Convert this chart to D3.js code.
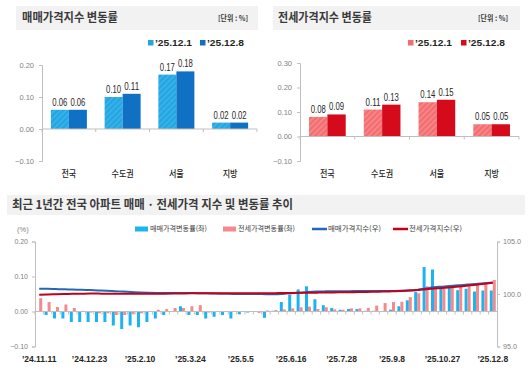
<!DOCTYPE html>
<html><head><meta charset="utf-8">
<script src="https://cdn.jsdelivr.net/npm/d3@7"></script>
<style>
body{margin:0;background:#fff}
svg{display:block}
text{font-family:"Noto Sans CJK KR","Noto Sans",sans-serif}
.num{font-family:"Liberation Sans Narrow","Arial Narrow","Liberation Sans",Arial,sans-serif}
.lat{font-family:"Liberation Sans",Arial,sans-serif}
</style>
</head><body>
<svg id="c" width="530" height="375"></svg>
<script>
// ---------- data ----------
const regions = ["전국", "수도권", "서울", "지방"];
const legendDates = ["’25.12.1", "’25.12.8"];
const saleChgDec1 = [0.06, 0.10, 0.17, 0.02];
const saleChgDec8 = [0.06, 0.11, 0.18, 0.02];
const jeonseChgDec1 = [0.08, 0.11, 0.14, 0.05];
const jeonseChgDec8 = [0.09, 0.13, 0.15, 0.05];
const saleTicks = [-0.10, 0.00, 0.10, 0.20];
const jeonseTicks = [-0.10, 0.00, 0.10, 0.20, 0.30];

const weeks = ["’24.11.11","’24.11.18","’24.11.25","’24.12.2","’24.12.9","’24.12.16","’24.12.23","’24.12.30",
  "’25.1.6","’25.1.13","’25.1.20","’25.2.3","’25.2.10","’25.2.17","’25.2.24","’25.3.3","’25.3.10","’25.3.17",
  "’25.3.24","’25.3.31","’25.4.7","’25.4.14","’25.4.21","’25.4.28","’25.5.5","’25.5.12","’25.5.19","’25.5.26",
  "’25.6.2","’25.6.9","’25.6.16","’25.6.23","’25.6.30","’25.7.7","’25.7.14","’25.7.21","’25.7.28","’25.8.4",
  "’25.8.11","’25.8.18","’25.8.25","’25.9.1","’25.9.8","’25.9.15","’25.9.22","’25.9.29","’25.10.13","’25.10.20",
  "’25.10.27","’25.11.3","’25.11.10","’25.11.17","’25.11.24","’25.12.1","’25.12.8"];
const weekTickLabels = ["’24.11.11","’24.12.23","’25.2.10","’25.3.24","’25.5.5","’25.6.16","’25.7.28","’25.9.8","’25.10.27","’25.12.8"];
const saleWeeklyChg = [0.00,-0.01,-0.02,-0.02,-0.03,-0.03,-0.03,-0.03,-0.03,-0.04,-0.05,-0.04,-0.045,-0.03,-0.02,-0.01,0.00,0.015,
  -0.01,-0.01,-0.02,-0.015,-0.01,-0.02,-0.008,-0.003,0.00,-0.018,0.002,0.027,0.048,0.063,0.072,0.035,0.018,0.01,
  0.005,0.007,0.007,0.002,0.002,0.00,0.005,0.015,0.032,0.056,0.127,0.12,0.068,0.068,0.061,0.065,0.057,0.06,0.06];
const jeonseWeeklyChg = [0.038,0.027,0.013,0.02,0.01,0.002,-0.003,-0.005,-0.005,-0.01,-0.01,-0.008,-0.005,0.00,0.005,0.007,0.01,0.01,
  0.015,0.018,-0.003,0.00,0.00,0.00,0.00,0.00,-0.004,0.003,0.004,0.006,0.009,0.012,0.014,0.007,0.012,0.006,
  0.005,0.009,0.009,0.01,0.017,0.024,0.027,0.028,0.041,0.052,0.072,0.065,0.065,0.07,0.07,0.075,0.078,0.08,0.09];
const saleIndex = [100.50,100.49,100.47,100.45,100.42,100.40,100.37,100.34,100.31,100.27,100.23,100.19,100.15,100.12,100.10,100.09,100.09,100.10,
  100.09,100.08,100.06,100.04,100.03,100.01,100.00,100.00,100.00,99.98,99.98,100.01,100.06,100.12,100.19,100.23,100.25,100.26,
  100.26,100.27,100.28,100.28,100.28,100.28,100.29,100.30,100.33,100.39,100.52,100.64,100.70,100.77,100.83,100.90,100.95,101.02,101.09];
const jeonseIndex = [99.93,99.96,99.98,100.00,100.02,100.03,100.04,100.04,100.03,100.03,100.02,100.02,100.02,100.02,100.02,100.03,100.04,100.05,
  100.06,100.08,100.08,100.08,100.08,100.08,100.08,100.08,100.07,100.08,100.08,100.09,100.10,100.11,100.12,100.13,100.15,100.15,
  100.16,100.17,100.18,100.19,100.21,100.23,100.26,100.29,100.33,100.38,100.45,100.52,100.58,100.65,100.72,100.80,100.88,100.97,101.07];
const chgTicks = [-0.10, 0.00, 0.10, 0.20];
const idxTicks = [95, 100, 105];

// ---------- drawing ----------
const svg = d3.select("#c");
const defs = svg.append("defs");
function hatch(id, base, stripe){
  const p = defs.append("pattern").attr("id", id).attr("patternUnits","userSpaceOnUse")
    .attr("width",4).attr("height",4).attr("patternTransform","rotate(45)");
  p.append("rect").attr("width",4).attr("height",4).attr("fill",base);
  p.append("rect").attr("width",1.6).attr("height",4).attr("fill",stripe);
}
hatch("hBlue", "#22a6e2", "#3db3ea");
hatch("hRed", "#f36d70", "#f78a8c");

const gridCol = "#bfbfbf", tickTxt = "#7f7f7f";
const fmt2 = d3.format(".2f");

function titleBar(x, y, w, h, label, tx, tlen, unitX){
  svg.append("rect").attr("x",x).attr("y",y).attr("width",w).attr("height",h).attr("fill","#f2f2f2");
  svg.append("text").attr("x",tx).attr("y",y+h/2).attr("dy","0.36em")
    .attr("font-size",12).attr("font-weight","bold").attr("fill","#3a3a3a")
    .attr("textLength",tlen).attr("lengthAdjust","spacingAndGlyphs").text(label);
  if(unitX!=null){
    svg.append("text").attr("x",unitX).attr("y",y+h/2).attr("dy","0.36em")
      .attr("font-size",7.5).attr("font-weight","bold").attr("fill","#3a3a3a")
      .attr("textLength",30).attr("lengthAdjust","spacingAndGlyphs").text("[단위 : %]");
  }
}

function topPanel(opt){
  const x0 = d3.scaleBand().domain(regions).range([opt.left, opt.right]).paddingInner(0.33).paddingOuter(0.165);
  const x1 = d3.scaleBand().domain([0,1]).range([0, x0.bandwidth()]);
  const y = d3.scaleLinear().domain([opt.ticks[0], opt.ticks[opt.ticks.length-1]]).range([161, opt.top]);
  const g = svg.append("g");
  const ya = g.append("g").attr("transform",`translate(${opt.left},0)`)
    .call(d3.axisLeft(y).tickValues(opt.ticks).tickSize(3).tickFormat(fmt2));
  ya.select(".domain").attr("stroke",gridCol);
  ya.selectAll(".tick line").attr("stroke",gridCol);
  ya.selectAll(".tick text").attr("class","lat").attr("font-size",7.5).attr("fill",tickTxt).attr("x",-8);
  const series = [opt.v1, opt.v2];
  regions.forEach((r,i)=>{
    series.forEach((vals,k)=>{
      const v = vals[i];
      g.append("rect").attr("x",x0(r)+x1(k)).attr("width",x1.bandwidth())
        .attr("y",y(Math.max(0,v))).attr("height",Math.abs(y(v)-y(0)))
        .attr("fill", k===0 ? opt.fill1 : opt.fill2);
      g.append("text").attr("class","lat").attr("x",x0(r)+x1(k)+x1.bandwidth()/2).attr("y",y(v)-4)
        .attr("text-anchor","middle").attr("font-size",10).attr("fill","#262626")
        .attr("textLength",15).attr("lengthAdjust","spacingAndGlyphs").text(fmt2(v));
    });
  });
  g.append("line").attr("x1",opt.left).attr("x2",opt.right).attr("y1",y(0)).attr("y2",y(0)).attr("stroke",gridCol);
  const bounds = regions.map(r=>x0(r)-x0.step()*0.165).concat([opt.right]);
  bounds.forEach(b=>g.append("line").attr("x1",b).attr("x2",b).attr("y1",y(0)).attr("y2",y(0)+3).attr("stroke",gridCol));
  regions.forEach(r=>{
    g.append("text").attr("x",x0(r)+x0.bandwidth()/2).attr("y",177).attr("text-anchor","middle")
      .attr("font-size",9).attr("font-weight",500).attr("fill","#222")
      .attr("textLength",r.length*7.4).attr("lengthAdjust","spacingAndGlyphs").text(r);
  });
  legendDates.forEach((d,k)=>{
    const lx = opt.legX[k];
    g.append("rect").attr("x",lx).attr("y",40).attr("width",5.5).attr("height",5.5).attr("fill",k===0?opt.sw1:opt.fill2);
    g.append("text").attr("class","lat").attr("x",lx+7).attr("y",46).attr("font-size",9.5).attr("font-weight","bold")
      .attr("fill","#262626").attr("textLength",37).attr("lengthAdjust","spacingAndGlyphs").text(d);
  });
}

titleBar(16, 6, 242, 24, "매매가격지수 변동률", 22, 96, 218);
titleBar(273, 6, 247, 24, "전세가격지수 변동률", 278, 94, 478);

topPanel({left:42, right:257, top:65, ticks:saleTicks, v1:saleChgDec1, v2:saleChgDec8,
  fill1:"url(#hBlue)", sw1:"#22a6e2", fill2:"#1070c4", legX:[148,200]});
topPanel({left:300, right:519, top:63, ticks:jeonseTicks, v1:jeonseChgDec1, v2:jeonseChgDec8,
  fill1:"url(#hRed)", sw1:"#f36d70", fill2:"#d50a1a", legX:[408,461]});

// ---------- bottom chart ----------
titleBar(7, 195, 518, 20, "최근 1년간 전국 아파트 매매 · 전세가격 지수 및 변동률 추이", 12, 281, null);

const bx = d3.scaleBand().domain(weeks).range([35, 497]);
const bsub = d3.scaleBand().domain(["sale","jeonse"]).range([0, bx.bandwidth()]).paddingOuter(0.4);
const yL = d3.scaleLinear().domain([-0.10, 0.20]).range([346.5, 241.5]);
const yR = d3.scaleLinear().domain([95, 105]).range([346.5, 241.5]);
const bg = svg.append("g");

const la = bg.append("g").attr("transform","translate(35,0)")
  .call(d3.axisLeft(yL).tickValues(chgTicks).tickSize(3).tickFormat(fmt2));
la.select(".domain").attr("stroke",gridCol);
la.selectAll(".tick line").attr("stroke",gridCol);
la.selectAll(".tick text").attr("class","lat").attr("font-size",7).attr("fill",tickTxt).attr("x",-7);

const ra = bg.append("g").attr("transform","translate(497,0)")
  .call(d3.axisRight(yR).tickValues(idxTicks).tickSize(3).tickFormat(d3.format(".1f")));
ra.select(".domain").attr("stroke",gridCol);
ra.selectAll(".tick line").attr("stroke",gridCol);
ra.selectAll(".tick text").attr("class","lat").attr("font-size",7.2).attr("fill",tickTxt).attr("x",6);

bg.append("text").attr("class","lat").attr("x",17).attr("y",229).attr("dy","0.35em")
  .attr("font-size",7.5).attr("fill",tickTxt).text("(%)");

weeks.forEach((w,i)=>{
  [["sale",saleWeeklyChg[i],"#1cb4f0"],["jeonse",jeonseWeeklyChg[i],"#f48a8d"]].forEach(([k,v,c])=>{
    bg.append("rect").attr("x",bx(w)+bsub(k)).attr("width",bsub.bandwidth())
      .attr("y",yL(Math.max(0,v))).attr("height",Math.abs(yL(v)-yL(0))).attr("fill",c);
  });
});

bg.append("line").attr("x1",35).attr("x2",497).attr("y1",yL(0)).attr("y2",yL(0)).attr("stroke",gridCol);
weeks.forEach(w=>bg.append("line").attr("x1",bx(w)).attr("x2",bx(w)).attr("y1",yL(0)).attr("y2",yL(0)+3).attr("stroke",gridCol));

const cx = w => bx(w) + bx.bandwidth()/2;
const line = d3.line().x((d,i)=>cx(weeks[i])).y(d=>yR(d)).curve(d3.curveMonotoneX);
bg.append("path").attr("d",line(saleIndex)).attr("fill","none").attr("stroke","#2467b3").attr("stroke-width",2);
bg.append("path").attr("d",line(jeonseIndex)).attr("fill","none").attr("stroke","#c0001c").attr("stroke-width",2);

weekTickLabels.forEach(w=>{
  bg.append("text").attr("class","lat").attr("x",cx(w)).attr("y",362).attr("text-anchor","middle")
    .attr("font-size",8.5).attr("font-weight","bold").attr("fill","#262626").text(w);
});

const lg = bg.append("g");
const legItems = [
  {type:"rect", x:135, col:"#1cb4f0", label:"매매가격변동률(좌)"},
  {type:"rect", x:223, col:"#f48a8d", label:"전세가격변동률(좌)"},
  {type:"line", x:312, col:"#2467b3", label:"매매가격지수(우)"},
  {type:"line", x:393, col:"#c0001c", label:"전세가격지수(우)"}
];
legItems.forEach(it=>{
  if(it.type==="rect") lg.append("rect").attr("x",it.x).attr("y",226.5).attr("width",13).attr("height",5).attr("fill",it.col);
  else lg.append("line").attr("x1",it.x).attr("x2",it.x+15).attr("y1",229).attr("y2",229).attr("stroke",it.col).attr("stroke-width",2.5);
  lg.append("text").attr("x",it.x+(it.type==="rect"?15:16)).attr("y",229).attr("dy","0.35em")
    .attr("font-size",7).attr("fill","#404040")
    .attr("textLength", it.type==="rect"?57:53).attr("lengthAdjust","spacingAndGlyphs").text(it.label);
});
</script>
</body></html>
